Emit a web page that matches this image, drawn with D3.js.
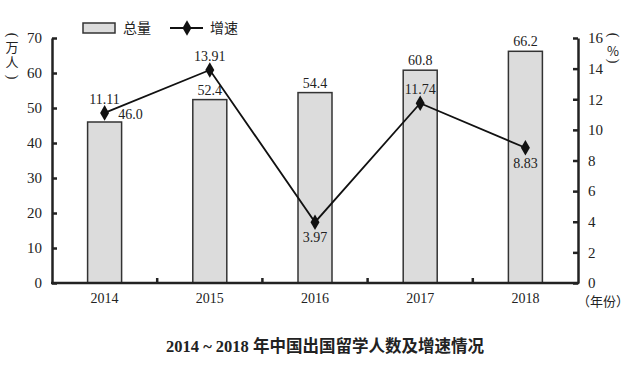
<!DOCTYPE html>
<html>
<head>
<meta charset="utf-8">
<script src="https://cdn.jsdelivr.net/npm/d3@7"></script>
<style>
  body { margin: 0; background: #fff; }
  svg { display: block; }
  text { font-family: "Liberation Serif", "Noto Sans CJK SC", serif; fill: #222; }
  .cjk { font-family: "Noto Sans CJK SC", sans-serif; }
</style>
</head>
<body>
<svg width="640" height="365"></svg>
<script>
var years = ["2014", "2015", "2016", "2017", "2018"];
var totals = [46.0, 52.4, 54.4, 60.8, 66.2];
var growth = [11.11, 13.91, 3.97, 11.74, 8.83];
var leftTicks = [0, 10, 20, 30, 40, 50, 60, 70];
var rightTicks = [0, 2, 4, 6, 8, 10, 12, 14, 16];
// where each growth label sits relative to its marker
var growthLabelPos = ["above", "above", "below", "above", "below"];

function drawChart() {
    var svg = d3.select("svg");
    var mLeft = 52, mRight = 578, mTop = 38, mBottom = 283;
    var ink = "#222";

    var x = d3.scaleBand().domain(years).range([mLeft, mRight]);
    var yL = d3.scaleLinear().domain([0, 70]).range([mBottom, mTop]);
    var yR = d3.scaleLinear().domain([0, 16]).range([mBottom, mTop]);
    var barW = 34;
    var cx = function (d) { return x(d) + x.bandwidth() / 2; };

    // bars
    svg.selectAll("rect.bar").data(years).enter().append("rect")
        .attr("class", "bar")
        .attr("x", function (d) { return cx(d) - barW / 2; })
        .attr("y", function (d, i) { return yL(totals[i]); })
        .attr("width", barW)
        .attr("height", function (d, i) { return mBottom - yL(totals[i]); })
        .attr("fill", "#dcdcdc")
        .attr("stroke", "#333")
        .attr("stroke-width", 1.5);

    // bar value labels
    svg.selectAll("text.bv").data(years).enter().append("text")
        .attr("class", "bv")
        .attr("x", function (d, i) { return cx(d) + (i === 0 ? 26 : 0); })
        .attr("y", function (d, i) { return yL(totals[i]) - (i === 0 ? 3 : 5); })
        .attr("text-anchor", "middle")
        .attr("font-size", 14)
        .text(function (d, i) { return totals[i].toFixed(1); });

    // left and right axes, ticks pointing inward
    var axL = svg.append("g").attr("transform", "translate(" + mLeft + ",0)")
        .call(d3.axisLeft(yL).tickValues(leftTicks).tickSize(-5).tickPadding(10).tickSizeOuter(0));
    var axR = svg.append("g").attr("transform", "translate(" + mRight + ",0)")
        .call(d3.axisRight(yR).tickValues(rightTicks).tickSize(-5).tickPadding(10).tickSizeOuter(0));
    [axL, axR].forEach(function (g) {
        g.select(".domain").attr("stroke", ink).attr("stroke-width", 2.5);
        g.selectAll(".tick line").attr("stroke", ink).attr("stroke-width", 2.5);
        g.selectAll(".tick text").attr("font-size", 15).attr("fill", ink)
            .attr("font-family", "Liberation Serif");
    });

    // bottom axis
    var axB = svg.append("g").attr("transform", "translate(0," + mBottom + ")")
        .call(d3.axisBottom(x).tickSize(0).tickPadding(10));
    axB.select(".domain").remove();
    axB.selectAll(".tick text").attr("font-size", 14).attr("fill", ink)
        .attr("font-family", "Liberation Serif");
    svg.append("line").attr("x1", mLeft - 1).attr("x2", mRight + 1)
        .attr("y1", mBottom).attr("y2", mBottom)
        .attr("stroke", ink).attr("stroke-width", 2.5);
    svg.selectAll("line.sep").data(years.slice(1)).enter().append("line")
        .attr("class", "sep")
        .attr("x1", function (d) { return x(d); }).attr("x2", function (d) { return x(d); })
        .attr("y1", mBottom).attr("y2", mBottom - 5)
        .attr("stroke", ink).attr("stroke-width", 2.5);

    // growth line
    var line = d3.line()
        .x(function (d, i) { return cx(years[i]); })
        .y(function (d) { return yR(d); });
    svg.append("path").datum(growth)
        .attr("d", line).attr("fill", "none")
        .attr("stroke", "#111").attr("stroke-width", 1.8);

    var diamond = d3.symbol().type(d3.symbolDiamond).size(70);
    svg.selectAll("path.mk").data(growth).enter().append("path")
        .attr("class", "mk")
        .attr("d", diamond)
        .attr("transform", function (d, i) {
            return "translate(" + cx(years[i]) + "," + yR(d) + ")";
        })
        .attr("fill", "#111");

    svg.selectAll("text.gv").data(growth).enter().append("text")
        .attr("class", "gv")
        .attr("x", function (d, i) { return cx(years[i]); })
        .attr("y", function (d, i) { return growthLabelPos[i] === "above" ? yR(d) - 9 : yR(d) + 20; })
        .attr("text-anchor", "middle")
        .attr("font-size", 14)
        .text(function (d) { return d.toFixed(2); });

    // legend
    svg.append("rect").attr("x", 83).attr("y", 23).attr("width", 32).attr("height", 10)
        .attr("fill", "#dcdcdc").attr("stroke", "#333").attr("stroke-width", 1.5);
    svg.append("text").attr("class", "cjk").attr("x", 123).attr("y", 33)
        .attr("font-size", 14).text("总量");
    svg.append("line").attr("x1", 170).attr("x2", 203).attr("y1", 28).attr("y2", 28)
        .attr("stroke", "#111").attr("stroke-width", 1.8);
    svg.append("path").attr("d", diamond).attr("transform", "translate(187,28)").attr("fill", "#111");
    svg.append("text").attr("class", "cjk").attr("x", 210).attr("y", 33)
        .attr("font-size", 14).text("增速");

    // axis unit labels, written vertically with turned brackets
    function bracket(px, py, ch) {
        svg.append("text").attr("transform", "translate(" + px + "," + py + ") rotate(90)")
            .attr("text-anchor", "middle").attr("dominant-baseline", "central")
            .attr("font-size", 14).text(ch);
    }
    bracket(12, 35, "(");
    svg.append("text").attr("class", "cjk")
        .attr("x", 12).attr("y", 41)
        .style("writing-mode", "vertical-rl")
        .style("letter-spacing", "2px")
        .attr("font-size", 13).text("万人");
    bracket(12, 77, ")");
    bracket(613, 35, "(");
    svg.append("text").attr("class", "cjk").attr("x", 613).attr("y", 50)
        .attr("text-anchor", "middle").attr("dominant-baseline", "central")
        .attr("font-size", 13).text("%");
    bracket(613, 61, ")");
    svg.append("text").attr("class", "cjk").attr("x", 577).attr("y", 306)
        .attr("font-size", 13).text("（年份）");

    // title
    svg.append("text").attr("x", 325).attr("y", 352).attr("text-anchor", "middle")
        .attr("font-size", 16.5).attr("font-weight", "bold")
        .attr("font-family", "Liberation Serif, Noto Sans CJK SC")
        .text("2014 ~ 2018 年中国出国留学人数及增速情况");
}

drawChart();
</script>
</body>
</html>
